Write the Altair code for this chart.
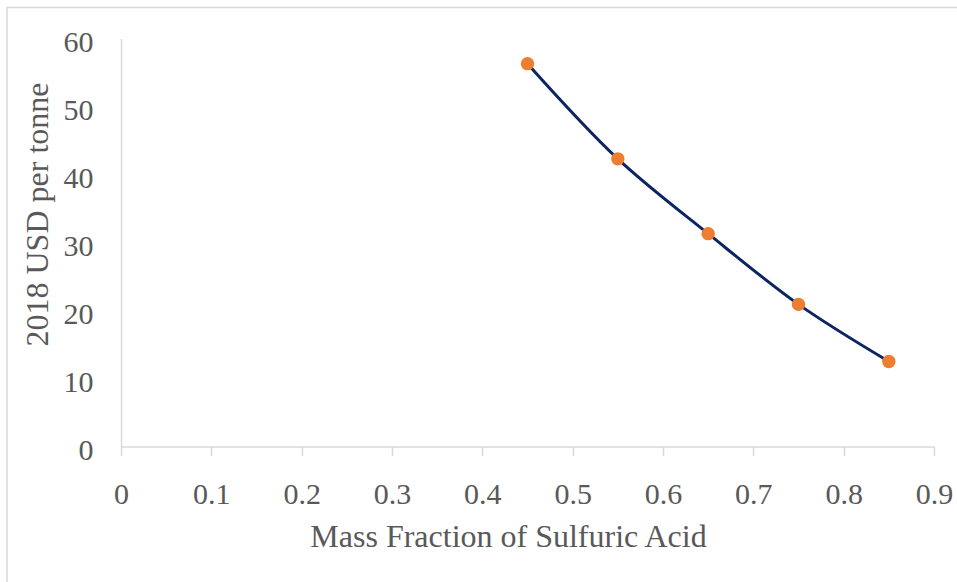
import altair as alt
import pandas as pd

mass_fraction = [0.45, 0.55, 0.65, 0.75, 0.85]
usd_per_tonne = [56.3, 42.3, 31.3, 20.9, 12.5]
x_ticks = [0, 0.1, 0.2, 0.3, 0.4, 0.5, 0.6, 0.7, 0.8, 0.9]
y_ticks = [0, 10, 20, 30, 40, 50, 60]

df = pd.DataFrame({"x": mass_fraction, "y": usd_per_tonne})

FONT = "Liberation Serif"
GRAY = "#595959"
AXIS = "#d9d9d9"

x_enc = alt.X(
    "x:Q",
    scale=alt.Scale(domain=[0, 0.9], nice=False, zero=False),
    axis=alt.Axis(
        title="Mass Fraction of Sulfuric Acid",
        values=x_ticks,
        format=".1~f",
        grid=False,
        domainColor=AXIS,
        domainWidth=1.5,
        tickColor=AXIS,
        tickWidth=1.5,
        tickSize=9,
        labelFont=FONT,
        labelFontSize=30,
        labelColor=GRAY,
        labelPadding=24,
        labelFlush=False,
        labelOverlap=False,
        titleFont=FONT,
        titleFontSize=32,
        titleFontWeight="normal",
        titleColor=GRAY,
        titleX=387,
        titleY=99.5,
        titleBaseline="alphabetic",
        titleAlign="center",
    ),
)
y_enc = alt.Y(
    "y:Q",
    scale=alt.Scale(domain=[0, 60], nice=False),
    axis=alt.Axis(
        title="2018 USD per tonne",
        values=y_ticks,
        grid=False,
        ticks=False,
        tickSize=0,
        domainColor=AXIS,
        domainWidth=1.5,
        labelFont=FONT,
        labelFontSize=30,
        labelColor=GRAY,
        labelPadding=28,
        labelOffset=4,
        labelFlush=False,
        labelOverlap=False,
        titleFont=FONT,
        titleFontSize=32,
        titleFontWeight="normal",
        titleColor=GRAY,
        titleAngle=270,
        titleX=-74,
        titleY=175.5,
        titleBaseline="alphabetic",
        titleAlign="center",
    ),
)

base = alt.Chart(df)
line = base.mark_line(
    color="#0c2461", strokeWidth=3, interpolate="catmull-rom"
).encode(x=x_enc, y=y_enc)
points = base.mark_point(
    filled=True, color="#ed7d31", size=180, opacity=1, shape="circle"
).encode(x="x:Q", y="y:Q")

border = alt.Chart(alt.Data(values=[{"a": 1}])).mark_rect(
    fill=None, stroke="#d9d9d9", strokeWidth=1.5
).encode(
    x=alt.value(-114), y=alt.value(-31), x2=alt.value(860), y2=alt.value(560)
)

chart = (
    alt.layer(border, line, points)
    .properties(
        width=813,
        height=408,
        autosize=alt.AutoSizeParams(type="none"),
        padding={"left": 121, "top": 38.5, "right": 23, "bottom": 135.5},
        background="white",
    )
    .configure_view(stroke=None)
)

chart.save("out.html", embed_options={"renderer": "svg", "actions": False})
